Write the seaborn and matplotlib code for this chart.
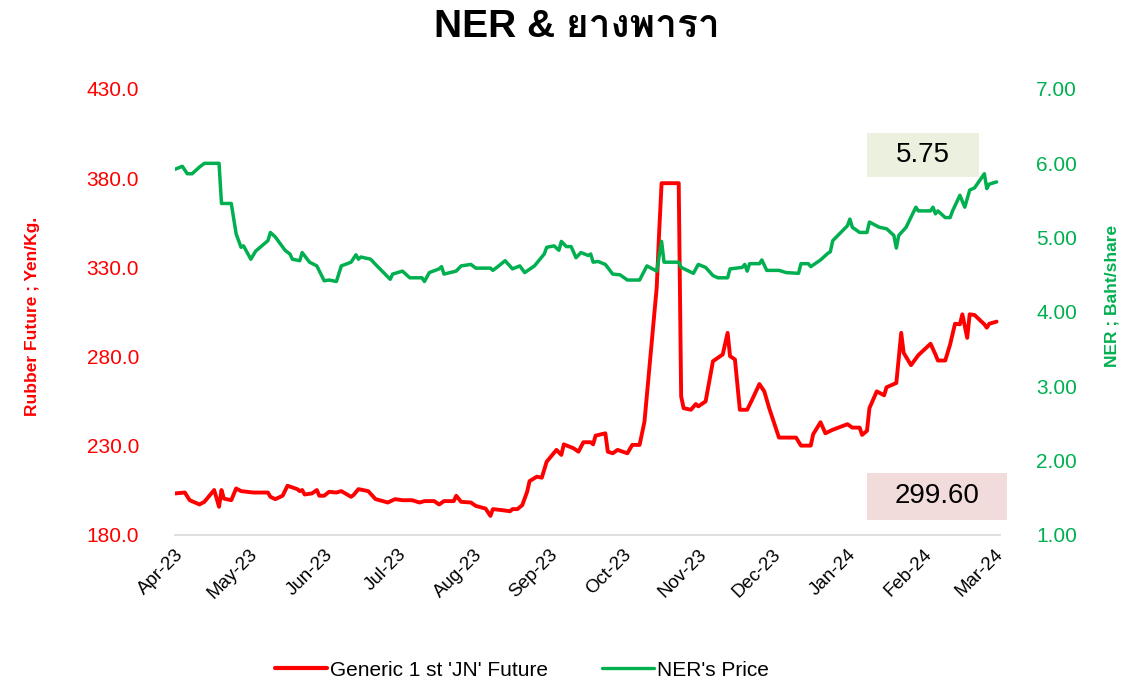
import pandas as pd
import matplotlib
matplotlib.use('Agg')
import matplotlib.pyplot as plt
import matplotlib.dates as mdates
from matplotlib import font_manager
from matplotlib.ft2font import FT2Font
from matplotlib.lines import Line2D
from matplotlib.patches import Rectangle
import seaborn as sns

# Rubber: Generic 1st 'JN' future (Yen/Kg.)
rubber_dates = [
    '2023-04-01', '2023-04-05', '2023-04-07', '2023-04-11', '2023-04-13', '2023-04-17',
    '2023-04-19', '2023-04-20', '2023-04-21', '2023-04-24', '2023-04-26', '2023-04-28',
    '2023-05-03', '2023-05-09', '2023-05-10', '2023-05-12', '2023-05-15', '2023-05-17',
    '2023-05-21', '2023-05-22', '2023-05-23', '2023-05-24', '2023-05-27', '2023-05-29',
    '2023-05-30',
    '2023-06-01', '2023-06-03', '2023-06-06', '2023-06-08', '2023-06-12', '2023-06-13',
    '2023-06-15', '2023-06-19', '2023-06-22', '2023-06-25', '2023-06-27', '2023-06-30',
    '2023-07-03', '2023-07-07', '2023-07-10', '2023-07-12', '2023-07-16', '2023-07-18',
    '2023-07-20', '2023-07-24', '2023-07-25', '2023-07-27', '2023-07-31',
    '2023-08-02', '2023-08-06', '2023-08-08', '2023-08-09', '2023-08-13', '2023-08-16',
    '2023-08-17', '2023-08-19', '2023-08-21', '2023-08-23', '2023-08-24', '2023-08-27',
    '2023-08-29', '2023-08-31',
    '2023-09-04', '2023-09-06', '2023-09-07', '2023-09-11', '2023-09-13', '2023-09-15',
    '2023-09-18', '2023-09-19', '2023-09-20', '2023-09-24', '2023-09-25', '2023-09-27',
    '2023-09-29',
    '2023-10-03', '2023-10-05', '2023-10-08', '2023-10-10', '2023-10-15', '2023-10-16',
    '2023-10-17', '2023-10-24', '2023-10-25', '2023-10-26', '2023-10-29', '2023-10-31',
    '2023-11-01', '2023-11-04', '2023-11-07', '2023-11-09', '2023-11-11', '2023-11-13',
    '2023-11-14', '2023-11-16', '2023-11-18', '2023-11-21', '2023-11-23', '2023-11-26',
    '2023-11-28', '2023-11-30',
    '2023-12-04', '2023-12-11', '2023-12-13', '2023-12-17', '2023-12-18', '2023-12-21',
    '2023-12-23', '2023-12-26',
    '2024-01-01', '2024-01-03', '2024-01-06', '2024-01-07', '2024-01-09', '2024-01-10',
    '2024-01-13', '2024-01-16', '2024-01-17', '2024-01-21', '2024-01-23', '2024-01-24',
    '2024-01-27', '2024-01-30',
    '2024-02-04', '2024-02-06', '2024-02-07', '2024-02-10', '2024-02-12', '2024-02-14',
    '2024-02-16', '2024-02-17', '2024-02-19', '2024-02-20', '2024-02-22', '2024-02-26',
    '2024-02-27', '2024-02-28',
    '2024-03-02',
]
rubber_price = [
    203.3, 203.8, 199.5, 197.1, 198.6, 205.2, 195.8, 205.2, 200.4, 199.5, 206.1, 204.6,
    203.8, 203.8, 201.4, 200.1, 202.0, 207.6, 205.7, 204.6, 205.2, 202.7, 203.3, 205.2,
    202.0,
    202.0, 204.2, 203.8, 204.6, 201.4, 202.4, 205.7, 204.6, 200.1, 199.0, 198.2, 200.1,
    199.5, 199.5, 198.2, 199.0, 199.0, 197.1, 199.0, 199.0, 202.0, 198.6, 198.2,
    196.3, 194.8, 190.7, 194.5, 193.9, 193.3, 194.5, 194.5, 196.7, 204.2, 210.2, 212.7,
    212.1, 221.1,
    227.7, 224.9, 230.8, 228.6, 226.7, 232.0, 232.0, 230.8, 235.7, 237.0, 226.7, 225.8,
    227.7,
    225.8, 230.5, 230.5, 243.6, 318.7, 349.7, 377.2, 377.2, 257.7, 251.1, 250.2, 253.4,
    252.1, 254.9, 277.4, 279.3, 281.2, 293.3, 280.2, 278.4, 250.2, 250.2, 255.8, 264.6,
    260.5, 251.1,
    234.6, 234.6, 230.1, 230.1, 236.5, 243.2, 237.0, 239.0,
    242.1, 240.2, 240.2, 236.1, 238.4, 251.1, 260.5, 258.3, 262.8, 265.2, 293.3, 282.1,
    275.2, 280.8,
    287.2, 281.2, 277.8, 277.8, 286.8, 298.4, 298.1, 303.7, 290.5, 303.7, 303.3, 298.1,
    296.2, 298.4,
    299.6,
]

# NER share price (Baht/share)
ner_dates = [
    '2023-04-01', '2023-04-04', '2023-04-06', '2023-04-08', '2023-04-11', '2023-04-13',
    '2023-04-19', '2023-04-20', '2023-04-24', '2023-04-26', '2023-04-28', '2023-04-29',
    '2023-05-02', '2023-05-04', '2023-05-09', '2023-05-10', '2023-05-12', '2023-05-16',
    '2023-05-18', '2023-05-19', '2023-05-22', '2023-05-23', '2023-05-26', '2023-05-29',
    '2023-06-01', '2023-06-03', '2023-06-06', '2023-06-08', '2023-06-12', '2023-06-14',
    '2023-06-15', '2023-06-16', '2023-06-20', '2023-06-22', '2023-06-28', '2023-06-29',
    '2023-07-03', '2023-07-06', '2023-07-11', '2023-07-12', '2023-07-14', '2023-07-18',
    '2023-07-19', '2023-07-20', '2023-07-25', '2023-07-27', '2023-07-31',
    '2023-08-02', '2023-08-08', '2023-08-09', '2023-08-11', '2023-08-14', '2023-08-17',
    '2023-08-20', '2023-08-22', '2023-08-26', '2023-08-30', '2023-08-31',
    '2023-09-03', '2023-09-05', '2023-09-06', '2023-09-08', '2023-09-10', '2023-09-12',
    '2023-09-14', '2023-09-17', '2023-09-18', '2023-09-19', '2023-09-21', '2023-09-24',
    '2023-09-27', '2023-09-30',
    '2023-10-03', '2023-10-08', '2023-10-11', '2023-10-15', '2023-10-17', '2023-10-18',
    '2023-10-24', '2023-10-25', '2023-10-30',
    '2023-11-01', '2023-11-04', '2023-11-07', '2023-11-09', '2023-11-13', '2023-11-14',
    '2023-11-19', '2023-11-20', '2023-11-21', '2023-11-22', '2023-11-26', '2023-11-27',
    '2023-11-29',
    '2023-12-04', '2023-12-07', '2023-12-12', '2023-12-13', '2023-12-16', '2023-12-17',
    '2023-12-21', '2023-12-24', '2023-12-25', '2023-12-26',
    '2024-01-01', '2024-01-02', '2024-01-03', '2024-01-06', '2024-01-09', '2024-01-10',
    '2024-01-14', '2024-01-17', '2024-01-20', '2024-01-21', '2024-01-22', '2024-01-25',
    '2024-01-29', '2024-01-30',
    '2024-02-04', '2024-02-05', '2024-02-06', '2024-02-07', '2024-02-10', '2024-02-12',
    '2024-02-13', '2024-02-16', '2024-02-18', '2024-02-20', '2024-02-22', '2024-02-26',
    '2024-02-27', '2024-02-28',
    '2024-03-02',
]
ner_price = [
    5.92, 5.96, 5.86, 5.86, 5.95, 6.00, 6.00, 5.46, 5.46, 5.05, 4.87, 4.89,
    4.71, 4.82, 4.96, 5.07, 5.01, 4.83, 4.78, 4.71, 4.69, 4.80, 4.67, 4.62,
    4.42, 4.43, 4.41, 4.62, 4.67, 4.77, 4.71, 4.74, 4.71, 4.64, 4.44, 4.51,
    4.55, 4.46, 4.46, 4.41, 4.53, 4.58, 4.61, 4.51, 4.55, 4.62, 4.64,
    4.59, 4.59, 4.56, 4.61, 4.69, 4.58, 4.62, 4.53, 4.62, 4.78, 4.87,
    4.89, 4.83, 4.95, 4.88, 4.88, 4.73, 4.80, 4.76, 4.78, 4.67, 4.68, 4.64,
    4.51, 4.50,
    4.43, 4.43, 4.62, 4.55, 4.95, 4.67, 4.67, 4.60, 4.52,
    4.64, 4.60, 4.49, 4.46, 4.46, 4.58, 4.60, 4.64, 4.55, 4.65, 4.65, 4.70,
    4.56,
    4.56, 4.53, 4.52, 4.65, 4.65, 4.61, 4.70, 4.79, 4.81, 4.96,
    5.16, 5.25, 5.14, 5.07, 5.07, 5.21, 5.14, 5.12, 5.03, 4.86, 5.03, 5.14,
    5.41, 5.36,
    5.36, 5.41, 5.32, 5.36, 5.27, 5.27, 5.36, 5.57, 5.41, 5.64, 5.67, 5.86,
    5.66, 5.72,
    5.75,
]

left_ticks = [180, 230, 280, 330, 380, 430]
right_ticks = [1, 2, 3, 4, 5, 6, 7]
series_labels = ["Generic 1 st 'JN' Future", "NER's Price"]

RED = '#FF0000'
GREEN = '#00B050'


def find_thai_font():
    # first installed family that really has Thai glyphs
    for entry in font_manager.fontManager.ttflist:
        try:
            if 0x0E22 in FT2Font(entry.fname).get_charmap():
                return entry.name
        except Exception:
            continue
    return 'DejaVu Sans'


sns.set_style('white')
plt.rcParams['font.family'] = ['Liberation Sans', 'DejaVu Sans']
plt.rcParams['text.color'] = 'black'
plt.rcParams['xtick.color'] = 'black'
thai_font = find_thai_font()

rubber = pd.DataFrame({'date': pd.to_datetime(rubber_dates), 'price': rubber_price})
ner = pd.DataFrame({'date': pd.to_datetime(ner_dates), 'price': ner_price})

fig = plt.figure(figsize=(11.22, 6.83), dpi=100)
ax = fig.add_axes([0.156, 0.2167, 0.7353, 0.653])
ax2 = ax.twinx()

sns.lineplot(data=rubber, x='date', y='price', ax=ax, color=RED, linewidth=2.8)
sns.lineplot(data=ner, x='date', y='price', ax=ax2, color=GREEN, linewidth=2.5)

ax.set_xlim(pd.Timestamp('2023-04-01'), pd.Timestamp('2024-03-03 10:00'))
ax.xaxis.set_major_locator(mdates.MonthLocator())
ax.xaxis.set_major_formatter(mdates.DateFormatter('%b-%y'))
for lbl in ax.get_xticklabels():
    lbl.set_rotation(45)
    lbl.set_ha('right')
    lbl.set_rotation_mode('anchor')

ax.set_ylim(left_ticks[0], left_ticks[-1])
ax.set_yticks(left_ticks)
ax.set_yticklabels([f'{t:.1f}' for t in left_ticks])
ax2.set_ylim(right_ticks[0], right_ticks[-1])
ax2.set_yticks(right_ticks)
ax2.set_yticklabels([f'{t:.2f}' for t in right_ticks])

ax.tick_params(axis='x', length=5, color='#D9D9D9', width=1.2, labelsize=13.5,
               labelcolor='black', pad=3)
ax.tick_params(axis='y', length=0, labelcolor=RED, labelsize=15, pad=26)
ax2.tick_params(axis='y', length=0, labelcolor=GREEN, labelsize=15, pad=26)

for a in (ax, ax2):
    for side in ('top', 'left', 'right'):
        a.spines[side].set_visible(False)
ax2.spines['bottom'].set_visible(False)
ax.spines['bottom'].set_color('#D9D9D9')
ax.spines['bottom'].set_linewidth(1.2)

ax.set_xlabel('')
ax.set_ylabel('Rubber Future ; Yen/Kg.', color=RED, fontweight='bold', fontsize=12.5)
ax.yaxis.set_label_coords(-0.164, 0.49)
ax2.set_ylabel('NER ; Baht/share', color=GREEN, fontweight='bold', fontsize=12.5)
ax2.yaxis.set_label_coords(1.127, 0.535)

fig.text(0.514, 0.96, 'NER & ยางพารา', ha='center', va='center', fontsize=28,
         fontweight='bold', color='black', family=['Liberation Sans', thai_font])

# last-value boxes
fig.add_artist(Rectangle((0.7727, 0.7408), 0.0998, 0.0644, transform=fig.transFigure,
                         facecolor='#EBF1DE', edgecolor='none'))
fig.text(0.8226, 0.7731, f'{ner_price[-1]:.2f}', ha='center', va='center', fontsize=20,
         color='black')
fig.add_artist(Rectangle((0.7727, 0.2387), 0.1248, 0.0688, transform=fig.transFigure,
                         facecolor='#F2DCDB', edgecolor='none'))
fig.text(0.8351, 0.2731, f'{rubber_price[-1]:.2f}', ha='center', va='center', fontsize=20,
         color='black')

handles = [Line2D([], [], color=RED, linewidth=3), Line2D([], [], color=GREEN, linewidth=2.4)]
fig.legend(handles, series_labels, loc='center', bbox_to_anchor=(0.465, 0.019), ncol=2,
           frameon=False, fontsize=15, handlelength=2.5, handletextpad=0.15,
           columnspacing=2.6, labelcolor='black')

fig.savefig('out.png', dpi=100)
